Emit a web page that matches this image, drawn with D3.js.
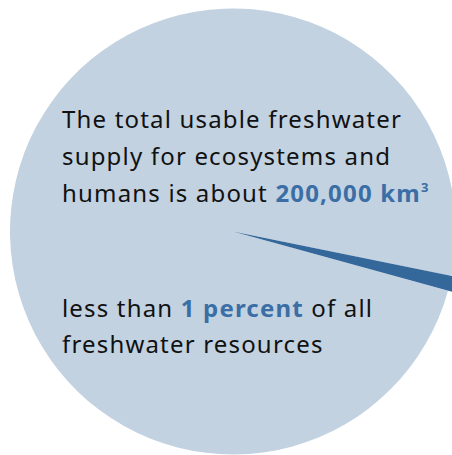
<!DOCTYPE html>
<html><head><meta charset="utf-8">
<script src="https://cdn.jsdelivr.net/npm/d3@7"></script>
<style>html,body{margin:0;padding:0;background:#fff;}svg{display:block;}</style>
</head><body>
<script>
// Data
const categories = ["Usable freshwater for ecosystems and humans", "Other freshwater resources"];
const shares = [1.08, 98.92];
const colors = ["#34679a", "#c2d2e1"];
const textBlock1 = [
  [{t:"The total usable freshwater", b:false}],
  [{t:"supply for ecosystems and", b:false}],
  [{t:"humans is about ", b:false},{t:"200,000 km", b:true, sup:"3"}]
];
const textBlock2 = [
  [{t:"less than ", b:false},{t:"1 percent", b:true},{t:" of all", b:false}],
  [{t:"freshwater resources", b:false}]
];

const W = 452, H = 455;
const cx = 233, cy = 231.5, R = 223;
const svg = d3.select("body").append("svg").attr("width", W).attr("height", H);

const startDeg = 101.5;
const pie = d3.pie().sort(null).value(d => d)
  .startAngle(startDeg * Math.PI/180)
  .endAngle(startDeg * Math.PI/180 + 2*Math.PI);
const arc = d3.arc().innerRadius(0).outerRadius(R);
const g = svg.append("g").attr("transform", `translate(${cx},${cy})`);
const arcs = pie(shares);
g.selectAll("path.big").data([arcs[1]]).join("path").attr("class","big")
  .attr("d", arc).attr("fill", colors[1]);
const arcSmall = d3.arc().innerRadius(0).outerRadius(R + 6);
g.selectAll("path.small").data([arcs[0]]).join("path").attr("class","small")
  .attr("d", arcSmall).attr("fill", colors[0]);

const font = "'Noto Sans', 'Open Sans', sans-serif";
const FS = 24;
function drawBlock(lines, x, y0, lh) {
  return lines.map((line, i) => {
    const t = svg.append("text").attr("x", x).attr("y", y0 + i*lh)
      .attr("font-family", font).attr("font-size", FS).attr("fill", "#111");
    line.forEach(s => {
      t.append("tspan").text(s.t)
        .attr("font-weight", s.b ? 700 : 400)
        .attr("fill", s.b ? "#3a6ea5" : "#111");
      if (s.sup) {
        t.append("tspan").text(s.sup).attr("font-weight", 700).attr("fill", "#3a6ea5")
          .attr("font-size", 13).attr("dy", -10);
      }
    });
    return t;
  });
}
const t1 = drawBlock(textBlock1, 62, 128, 37);
const t2 = drawBlock(textBlock2, 62, 317, 36);
// fit letter spacing so the first line spans the reference width
const target = 340;
const natural = t1[0].node().getComputedTextLength();
const n = textBlock1[0][0].t.length;
const ls = (target - natural) / n;
svg.selectAll("text").attr("letter-spacing", ls);
</script>
</body></html>
